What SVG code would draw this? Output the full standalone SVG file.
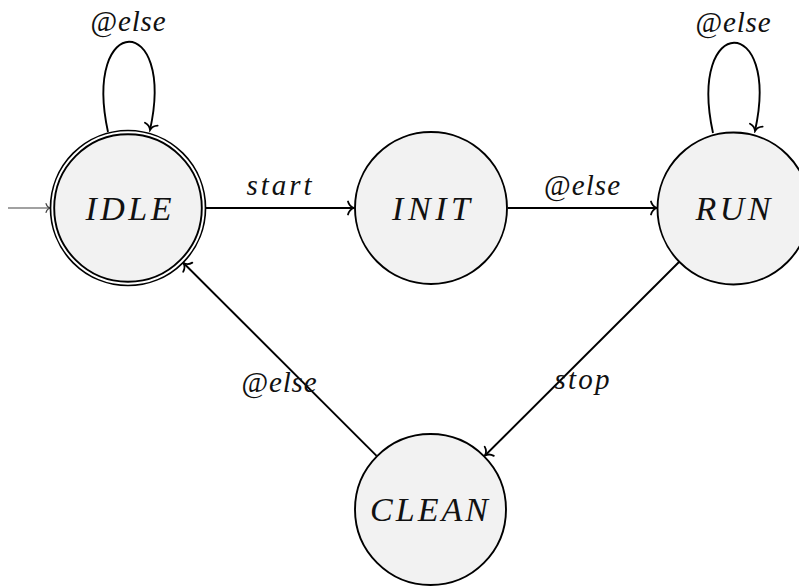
<svg xmlns="http://www.w3.org/2000/svg" width="799" height="587" viewBox="0 0 799 587">
  <style>
    .state { fill: #f2f2f2; stroke: #000; stroke-width: 1.9; }
    .ring { fill: #fff; stroke: #000; stroke-width: 1.7; }
    .name { font-family: "Liberation Serif", "DejaVu Serif", serif; font-style: italic; font-size: 34px; fill: #111; text-anchor: middle; }
    .lbl { font-family: "Liberation Serif", "DejaVu Serif", serif; font-style: italic; font-size: 29px; fill: #111; text-anchor: middle; }
    .up { font-style: normal; }
    .edge { fill: none; stroke: #000; stroke-width: 1.9; marker-end: url(#tip); }
    .entry { fill: none; stroke: #444; stroke-width: 1.1; marker-end: url(#tipThin); }
  </style>
  <defs>
    <marker id="tip" viewBox="-9 -8 11 16" refX="0" refY="0" markerWidth="11" markerHeight="16" markerUnits="userSpaceOnUse" orient="auto">
      <path d="M -6 -6.5 C -5 -2.8 -2.2 -0.7 0 0 C -2.2 0.7 -5 2.8 -6 6.5" fill="none" stroke="#000" stroke-width="1.8" stroke-linecap="round"/>
    </marker>
    <marker id="tipThin" viewBox="-8 -8 10 16" refX="0" refY="0" markerWidth="10" markerHeight="16" markerUnits="userSpaceOnUse" orient="auto">
      <path d="M -4 -4.5 C -3.3 -1.8 -1.5 -0.4 0 0 C -1.5 0.4 -3.3 1.8 -4 4.5" fill="none" stroke="#444" stroke-width="1.1" stroke-linecap="round"/>
    </marker>
  </defs>

  <!-- transitions -->
  <g id="connectors">
    <path class="entry" d="M 8 208 L 50 208"/>
    <path class="edge" d="M 108 132 C 82 12, 176 12, 150 130"/>
    <path class="edge" d="M 206 208 L 354 208"/>
    <path class="edge" d="M 508 208 L 657 208"/>
    <path class="edge" d="M 713 133 C 687 13, 781 13, 755 131"/>
    <path class="edge" d="M 679 262 L 485 455.5"/>
    <path class="edge" d="M 376.6 455.8 L 183.5 263"/>
    <text class="lbl" x="128" y="31" textLength="75" lengthAdjust="spacing"><tspan class="up">@</tspan>else</text>
    <text class="lbl" x="279" y="195" textLength="65" lengthAdjust="spacing">start</text>
    <text class="lbl" x="582" y="195" textLength="76" lengthAdjust="spacing"><tspan class="up">@</tspan>else</text>
    <text class="lbl" x="733" y="32" textLength="75" lengthAdjust="spacing"><tspan class="up">@</tspan>else</text>
    <text class="lbl" x="582" y="389" textLength="55" lengthAdjust="spacing">stop</text>
    <text class="lbl" x="279" y="392" textLength="75" lengthAdjust="spacing"><tspan class="up">@</tspan>else</text>
  </g>

  <!-- states -->
  <g id="IDLE">
    <circle class="ring" cx="128" cy="208" r="77.5"/>
    <circle class="state" cx="128" cy="208" r="73.8"/>
    <text class="name" x="128.5" y="219.5" textLength="86" lengthAdjust="spacing">IDLE</text>
  </g>
  <g id="INIT">
    <circle class="state" cx="431" cy="208" r="76"/>
    <text class="name" x="431" y="219.5" textLength="78" lengthAdjust="spacing">INIT</text>
  </g>
  <g id="RUN">
    <circle class="state" cx="733.5" cy="208.5" r="76"/>
    <text class="name" x="733" y="219.5" textLength="75" lengthAdjust="spacing">RUN</text>
  </g>
  <g id="CLEAN">
    <circle class="state" cx="430.5" cy="509.5" r="75.5"/>
    <text class="name" x="429" y="520.5" textLength="118" lengthAdjust="spacing">CLEAN</text>
  </g>
</svg>
